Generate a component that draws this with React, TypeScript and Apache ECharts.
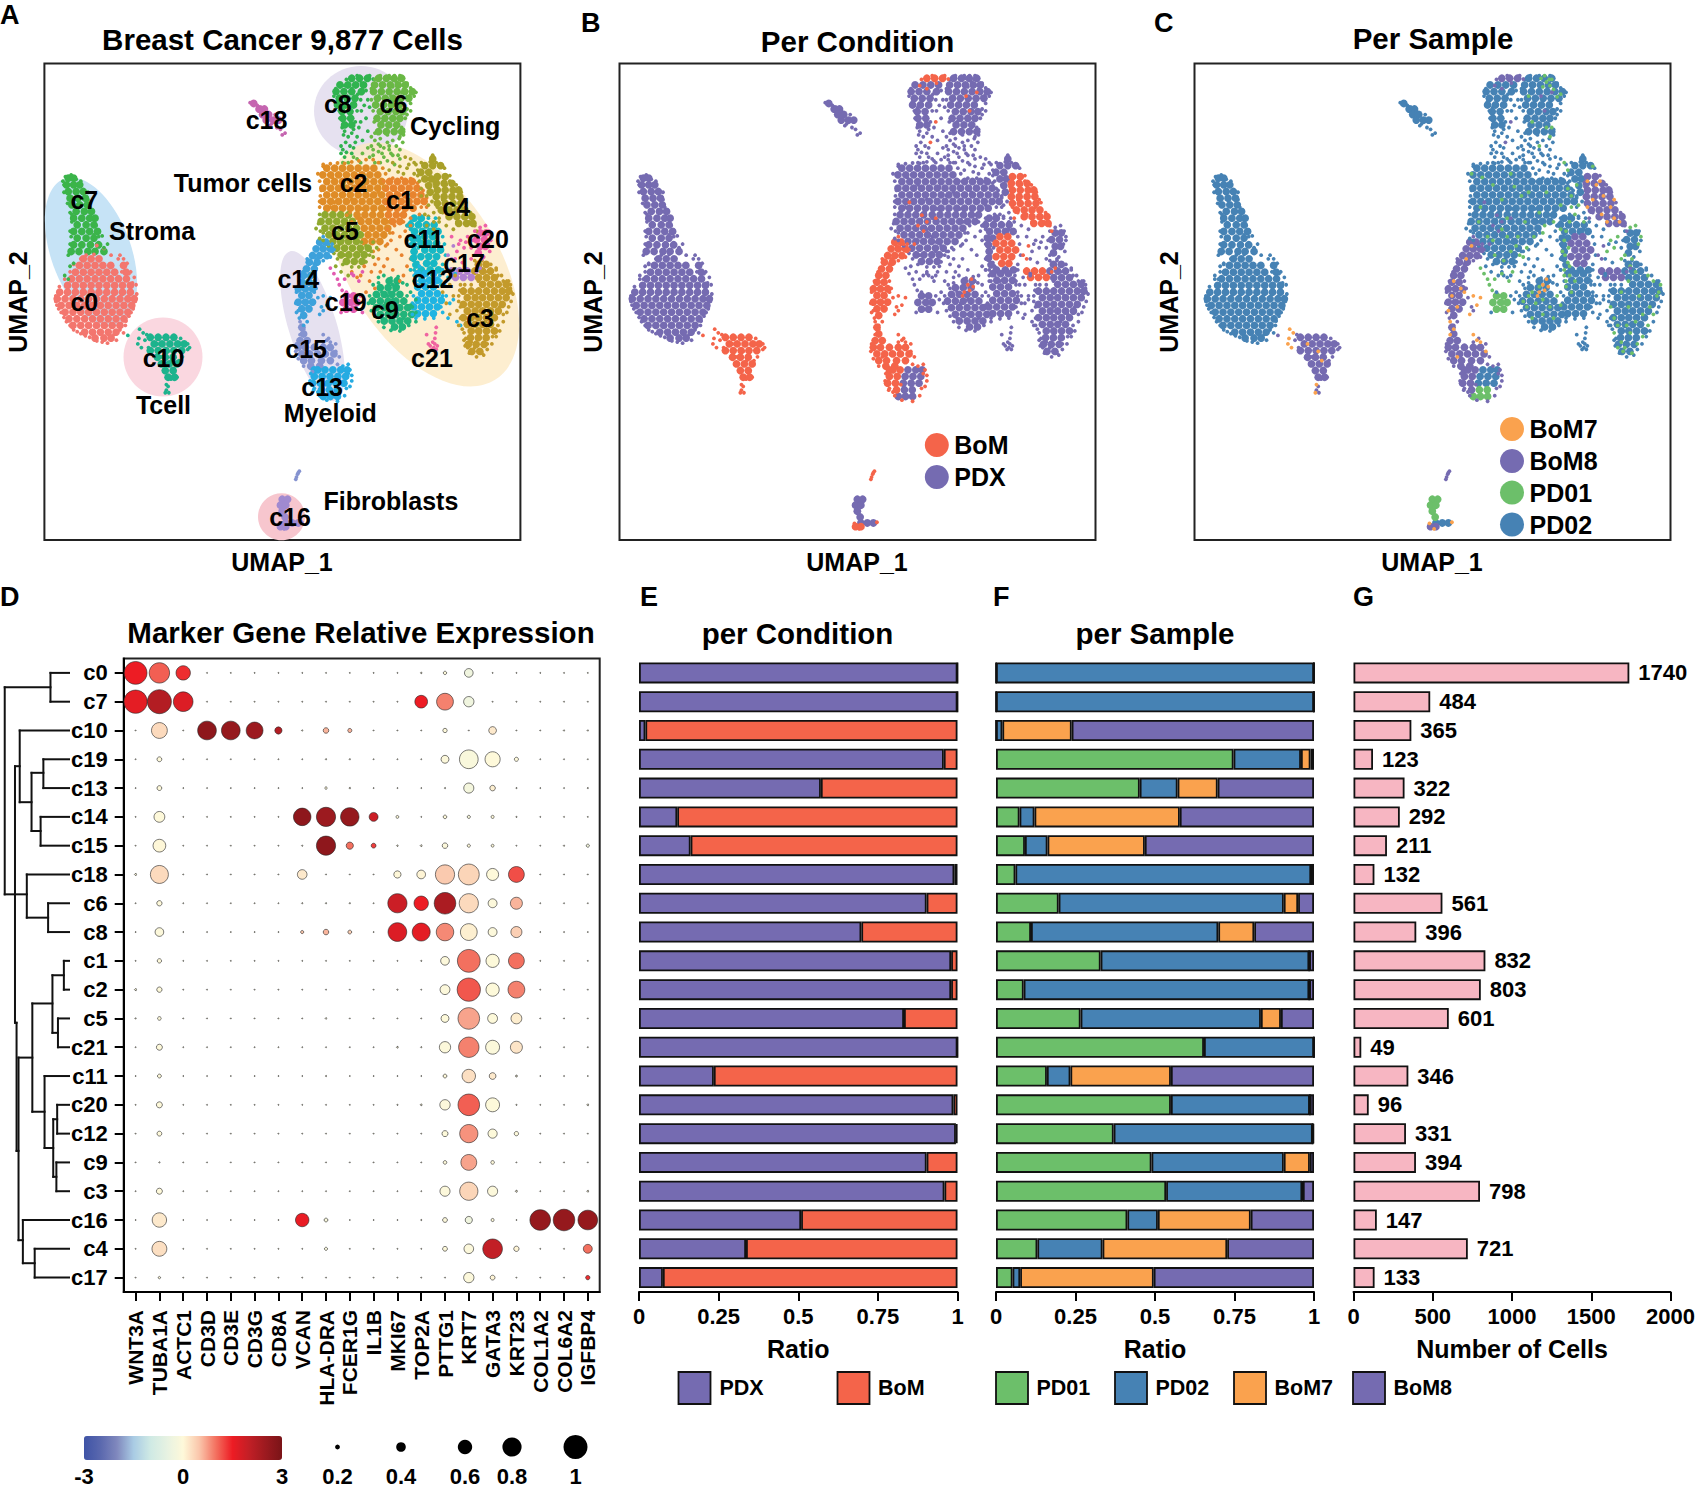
import React, { useEffect, useRef } from "react";
import * as echarts from "echarts";

const FONT = "Liberation Sans";

// ---------- Dot plot ----------
const rowsD = ["c0","c7","c10","c19","c13","c14","c15","c18","c6","c8","c1","c2","c5","c21","c11","c20","c12","c9","c3","c16","c4","c17"];
const genes = ["WNT3A","TUBA1A","ACTC1","CD3D","CD3E","CD3G","CD8A","VCAN","HLA-DRA","FCER1G","IL1B","MKI67","TOP2A","PTTG1","KRT7","GATA3","KRT23","COL1A2","COL6A2","IGFBP4"];
const dotPct = [
[.95,.85,.6,.02,.02,.02,.02,.02,.02,.02,.02,.02,.06,.14,.36,.03,.03,.02,.02,.02],
[.97,1,.82,.02,.02,.02,.02,.02,.02,.02,.02,.02,.53,.7,.43,.03,.04,.02,.02,.02],
[.03,.66,.02,.78,.78,.7,.3,.05,.23,.17,.02,.03,.03,.18,.02,.32,.02,.02,.05,.05],
[.02,.2,.02,.02,.02,.02,.02,.04,.05,.05,.04,.03,.02,.33,.78,.63,.17,.02,.02,.02],
[.02,.2,.02,.03,.03,.03,.03,.04,.1,.06,.03,.04,.02,.05,.42,.23,.05,.02,.02,.05],
[.02,.45,.02,.03,.03,.02,.02,.73,.8,.77,.37,.12,.04,.15,.13,.13,.05,.02,.02,.02],
[.02,.53,.02,.03,.04,.02,.02,.05,.8,.3,.2,.06,.07,.23,.13,.12,.02,.02,.05,.13],
[.08,.75,.04,.02,.02,.02,.02,.4,.02,.02,.02,.3,.36,.8,.87,.5,.66,.02,.02,.02],
[.04,.22,.02,.02,.02,.02,.02,.05,.05,.05,.04,.8,.6,.9,.8,.37,.5,.02,.04,.04],
[.04,.36,.02,.02,.02,.02,.02,.13,.23,.16,.04,.78,.75,.73,.7,.37,.46,.02,.04,.04],
[.03,.18,.02,.02,.02,.02,.02,.03,.03,.03,.03,.03,.05,.36,.95,.55,.66,.02,.02,.02],
[.08,.22,.02,.02,.02,.02,.02,.03,.04,.02,.02,.05,.04,.41,.97,.55,.7,.02,.02,.02],
[.05,.15,.02,.02,.02,.02,.02,.03,.06,.03,.03,.04,.02,.33,.9,.41,.45,.02,.02,.02],
[.02,.25,.02,.02,.02,.02,.02,.02,.03,.02,.02,.07,.05,.47,.85,.58,.5,.02,.03,.04],
[.02,.16,.02,.02,.02,.02,.02,.03,.05,.03,.03,.03,.03,.16,.56,.28,.08,.02,.02,.02],
[.02,.25,.02,.02,.02,.02,.02,.02,.02,.02,.02,.05,.07,.43,.9,.58,.05,.03,.03,.07],
[.02,.2,.02,.02,.02,.02,.02,.03,.03,.02,.02,.03,.02,.25,.76,.38,.18,.02,.02,.02],
[.02,.05,.02,.02,.02,.02,.02,.03,.03,.03,.02,.02,.03,.15,.66,.15,.04,.02,.02,.03],
[.02,.25,.02,.02,.02,.02,.02,.02,.02,.02,.02,.02,.04,.42,.76,.42,.08,.02,.03,.07],
[.02,.6,.02,.03,.03,.03,.02,.56,.16,.03,.03,.02,.05,.2,.3,.13,.04,.86,.9,.82],
[.03,.62,.02,.03,.03,.03,.03,.03,.13,.03,.03,.04,.03,.2,.4,.82,.22,.02,.02,.37],
[.02,.1,.02,.02,.02,.02,.03,.03,.04,.03,.03,.03,.03,.03,.43,.2,.03,.02,.02,.18],
];
const dotZ = [
[1.5,1.1,1.4,0,0,0,0,0,0,0,0,0,0,0,-.3,0,0,0,0,0],
[1.6,2.2,1.7,0,0,0,0,0,0,0,0,0,1.5,.9,-.3,0,0,0,0,0],
[0,.3,0,2.7,2.6,2.5,2.2,0,.6,.6,0,0,0,0,0,.15,0,0,0,0],
[0,0,0,0,0,0,0,0,0,0,0,0,0,-.05,-.1,0,0,0,0,0],
[0,0,0,0,0,0,0,0,0,0,0,0,0,0,-.2,.1,0,0,0,0],
[0,0,0,0,0,0,0,2.7,2.5,2.6,1.9,0,0,0,-.1,0,0,0,0,0],
[0,.02,0,0,0,0,0,0,2.7,1,1.3,0,0,-.05,0,0,0,0,0,-.2],
[0,.3,0,0,0,0,0,.15,0,0,0,.02,.05,.45,.35,0,1.2,0,0,0],
[0,0,0,0,0,0,0,0,0,0,0,1.9,1.5,2.3,.3,-.05,.6,0,0,0],
[0,-.05,0,0,0,0,0,.5,.6,.4,0,1.7,1.6,.85,.1,-.05,.4,0,0,0],
[0,0,0,0,0,0,0,0,0,0,0,0,0,-.05,1,-.03,1,0,0,0],
[0,0,0,0,0,0,0,0,0,0,0,0,0,-.05,1.15,-.03,.9,0,0,0],
[0,0,0,0,0,0,0,0,0,0,0,0,0,-.03,.7,-.03,.12,0,0,0],
[0,0,0,0,0,0,0,0,0,0,0,0,0,-.05,.9,-.07,.2,0,0,0],
[0,0,0,0,0,0,0,0,0,0,0,0,0,0,.25,.15,0,0,0,0],
[0,0,0,0,0,0,0,0,0,0,0,0,0,-.05,1.1,-.03,0,0,0,0],
[0,0,0,0,0,0,0,0,0,0,0,0,0,-.02,.8,-.02,-.03,0,0,0],
[0,0,0,0,0,0,0,0,0,0,0,0,0,0,.7,0,0,0,0,0],
[0,0,0,0,0,0,0,0,0,0,0,0,0,-.05,.35,-.05,0,0,0,0],
[0,.15,0,0,0,0,0,1.55,-.1,0,0,0,0,-.05,-.3,0,0,2.6,2.6,2.6],
[0,.25,0,0,0,0,0,0,-.1,0,0,0,0,0,-.05,2,.05,0,0,1],
[0,0,0,0,0,0,0,0,0,0,0,0,0,0,-.04,.05,0,0,0,1.4],
];
const zStops = ["#3F53A6","#5A68AE","#8088BD","#A9CBE4","#CEE9E4","#E6F2E2","#FEF9DA","#FAC5AA","#F3705F","#ED1C24","#C21F26","#9C1A1F","#7A1317"];
const sizeLegend = [[.2,337.5],[.4,401],[.6,465],[.8,512],[1,575.5]];

// Dendrogram segments: depth1, row1, depth2, row2
const dendroSegments = [
[128,0,175,0],[128,1,175,1],[128,0,128,1],[12,.5,128,.5],[12,.5,12,7.69],[12,7.69,68,7.69],[68,7,68,8.5],[68,7,175,7],[68,8.5,122,8.5],[122,8,122,9],[122,8,175,8],[122,9,175,9],
[38,3.24,38,12.15],[38,3.24,50,3.24],[50,2,50,4.49],[50,2,175,2],[50,4.49,80,4.49],[80,3.47,80,5.49],[80,3.47,110,3.47],[110,3,110,4],[110,3,175,3],[110,4,175,4],[80,5.49,103,5.49],[103,5,103,6],[103,5,175,5],[103,6,175,6],
[38,12.15,42,12.15],[42,12.15,42,16.6],[42,16.6,47,16.6],[47,13.36,47,19.7],[47,13.36,82,13.36],[82,11.48,82,15.24],[82,11.48,133,11.48],[133,10.5,133,12.5],[133,10.5,162,10.5],[162,10,162,11],[162,10,175,10],[162,11,175,11],[133,12.5,147,12.5],[147,12,147,13],[147,12,175,12],[147,13,175,13],
[82,15.24,113,15.24],[113,14,113,16.5],[113,14,175,14],[113,16.5,135,16.5],[135,15.5,135,17.5],[135,15.5,145,15.5],[145,15,145,16],[145,15,175,15],[145,16,175,16],[135,17.5,143,17.5],[143,17,143,18],[143,17,175,17],[143,18,175,18],
[47,19.7,58,19.7],[58,19,58,20.5],[58,19,175,19],[58,20.5,88,20.5],[88,20,88,21],[88,20,175,20],[88,21,175,21],
];

// ---------- Stacked bars ----------
const pdxRatio = [1,1,.02,.957,.571,.12,.162,.99,.903,.698,.98,.98,.832,1,.235,.987,.995,.903,.959,.509,.336,.075];
const bomRatio = [0,0,.98,.043,.429,.88,.838,.01,.097,.302,.02,.02,.168,0,.765,.013,.005,.097,.041,.491,.664,.925];
const pd01Ratio = [0,0,0,.747,.452,.074,.091,.061,.197,.11,.329,.087,.266,.654,.16,.55,.37,.489,.535,.413,.13,.052];
const pd02Ratio = [1,1,.02,.212,.119,.047,.071,.93,.708,.589,.656,.898,.567,.346,.074,.437,.626,.416,.428,.096,.205,.024];
const bom7Ratio = [0,0,.218,.03,.126,.457,.306,0,.045,.113,0,0,.063,0,.316,0,0,.082,.002,.292,.392,.42];
const bom8Ratio = [0,0,.762,.011,.303,.422,.532,.009,.05,.188,.015,.015,.104,0,.45,.013,.004,.013,.035,.199,.273,.504];
const cellCounts = [1740,484,365,123,322,292,211,132,561,396,832,803,601,49,346,96,331,394,798,147,721,133];

// ---------- UMAP cells (x, y in UMAP plot units). "d": rows [y, x, x...], "s": flat x,y pairs ----------
const c0Dense = [[700,232,254,276],[718,221,243,265,287,309,345],[736,210,232,254,276,298,320,352],[754,199,221,243,265,287,309,331,353],[772,188,210,232,254,276,298,320,342,364],[790,166,188,210,232,254,276,298,320,342,364],[808,159,181,203,225,247,269,291,313,335,357,375],[826,170,192,214,236,258,280,302,324,346,368],[844,181,203,225,247,269,291,313,335,357],[862,192,214,236,258,280,302,324,346],[880,203,225,247,269,291,313,335],[898,236,258,280,302,324],[914,265,290,310]];
const c0Sparse = [335,690,345,700,355,712,365,735,375,750,380,770,382,795,372,835,360,855,350,880,345,900,325,920,300,928,270,922,250,912,225,902,205,892,185,870,170,845,158,825,155,800,165,775,180,755,195,735,205,715,262,688,290,672,310,690,270,664,330,700,340,735,285,925,360,740,370,765,155,815,163,835,178,858,195,880,215,897,238,908,318,905,335,892,352,868,366,845,378,815,240,690,225,700];
const c7Dense = [[482,190,205],[500,185,205,222],[518,190,212,232],[536,195,217,238],[554,200,222,243],[572,212,235,255],[590,205,228,250,265],[608,215,240,262],[626,205,228,250,272],[644,215,240,262],[662,205,228,252,275],[680,198,220,245,265,290]];
const c7Sparse = [180,745,190,755,195,720,205,712,285,638,262,635,182,478,178,500,245,520,250,560,268,610,200,600,198,640,175,490,178,520,188,550,195,575,200,580,195,625,195,660,190,690,225,490,245,540,262,590,275,640,290,670,300,660,198,473,212,485];
const c10Dense = [[912,420,442,464,486],[930,431,453,475,497,515],[948,420,442,464,486,508],[966,440,462,484],[984,451,473,495],[1002,462,484],[1020,470,488]];
const c10Bom7 = [390,890,400,900,385,930,388,915,395,940,440,930,470,950,480,975,465,1040,462,1062];
const c10Sparse = [525,945,510,965,495,1020,470,1045,465,1055,472,1062,357,907,410,905,405,920,415,940,525,930,530,940,500,975,488,1005,478,1025,450,965,505,915];
const c8Top = [[212,985,1007,1029]];
const c8Dense = [[230,952,974,996,1018],[248,941,963,985,1012],[266,950,972,994],[284,945,967,990],[302,958,980],[320,960,982],[338,965,985]];
const c8Sparse = [965,355,975,370,968,385,980,395,960,405,970,412,995,330,1000,300,1010,270,1020,285,1025,320,1005,345,1000,370,1015,380,1030,355,1035,290,940,240,935,260,945,275,950,300,952,320,958,345,962,365,955,395,985,360,990,350,960,290,1002,255,1015,248,1025,245,1012,300,1030,270,990,400,985,415,965,425,955,415];
const c8Bom = [1045,214,965,232,985,240,1012,225,1010,330,995,385,970,215,1035,205,1000,205];
const c6Dense = [[212,1060,1082,1104,1125],[230,1049,1071,1093,1115,1135],[248,1046,1068,1090,1112,1134,1155],[266,1057,1079,1101,1123,1145],[284,1052,1074,1096,1118],[302,1065,1087,1109,1128],[320,1056,1078,1100,1120],[338,1067,1089,1111],[356,1060,1082,1104,1125]];
const c6Sparse = [1050,380,1065,375,1085,385,1100,380,1118,375,1130,365,1128,385,1075,400,1060,410,1090,405,1075,425,1065,440,1160,260,1150,280,1140,295,1135,320,1040,395,1110,395,1100,420,1000,430,975,440,1035,425,1050,440,1015,415,1165,250,1150,238,1140,225,1120,205,1090,205,1065,205,1050,215,1040,240,1040,270,1045,300,1048,330,1050,360,1060,390,1045,420,1120,405,1130,350,1130,300,1115,420,1085,435,1105,445,1120,430,1065,395,1085,365,1040,370,1030,400,1010,440,990,425,960,440,1070,415,1095,415,1045,405,1140,310,1150,300];
const c6Pd01 = [1095,212,1110,222,1120,232,1130,242,1100,235,1125,215,1140,262,1150,255,1070,330,1110,345,1125,345,1090,395,1120,370,1060,260,1105,205,1118,215];
const c6Bom = [1125,250,1095,260,1105,300];
const c2Dense = [[455,915,937,959,981,1003,1025,1047],[473,904,926,948,970,992,1014,1036,1058],[491,915,937,959,981,1003,1025,1047,1069],[509,904,926,948,970,992,1014,1036,1058],[527,915,937,959,981,1003,1025,1047,1069],[545,904,926,948,970,992,1014,1036,1058],[563,915,937,959,981,1003,1025,1047,1069],[581,1000,1022,1044,1066],[599,1011,1033,1055,1077],[617,1020,1042,1064,1086],[635,1031,1053,1075],[653,1020,1042,1064]];
const c2Pd01 = [930,480,960,500,1010,470,1040,530,985,540,925,560,1060,520,1000,590,1050,600,1075,640,1030,640,900,470,1020,505];
const c2Bom = [971,582,936,547,1010,590,985,600];
const c2Sparse = [890,470,905,450,895,490,900,515,895,545,1045,680,1060,675,1080,665,905,445,925,443,945,441,965,442,985,438,1005,435,1025,432,1045,432,1060,440,1072,455,1080,470,1075,505,1082,540,1078,565,1088,600,1092,630,895,560,897,530,980,575,1015,565];
const c5Dense = [[581,910,932,954,976],[599,899,921,943,965,987],[617,910,932,954,976,998],[635,921,943,965,987,1009],[653,932,954,976,998],[671,943,965,987,1009,1031],[689,955,977,999,1020],[707,970,992,1014]];
const c5Pd01 = [920,600,945,640,985,620,1010,680,965,690,1035,690,1000,640,990,705,1025,665,1045,695,1055,670,960,650];
const c5Bom = [976,625,960,610,950,660];
const c5Sparse = [940,720,955,735,975,745,885,618,905,630,895,645,895,580,892,605,897,625,905,650,920,665,935,685,945,700,960,715,985,722,1005,722,1025,708,1040,680,1012,655,1045,655];
const c1Dense = [[491,1091,1113,1135,1155],[509,1080,1102,1124,1146,1168],[527,1091,1113,1135,1157,1179],[545,1080,1102,1124,1146,1168,1188],[563,1091,1113,1135,1157],[581,1088,1110,1130],[599,1099,1120]];
const c1Pd01 = [1110,520,1150,555,1090,575,1170,510,1130,600,1180,560,1105,610,1100,630];
const c1Sparse = [1095,650,1110,675,1085,700,1125,690,1140,650,1150,700,1075,720,1100,730,1130,745,1060,700,1085,660,1120,640,1050,715,1065,735,985,735,1000,750,1135,625,1150,610,1075,490,1100,482,1125,482,1150,483,1170,495,1185,515,1195,535,1195,560,1175,580,1150,590,1140,610,1085,620,1020,720,1040,735,1010,745,1035,760,1050,780,1025,790,1150,730,1140,720,1120,760];
const c4Pd02 = [[430,1212],[448,1190,1212,1234],[466,1179,1201],[484,1190,1208],[502,1201],[520,1205]];
const c4Bom8 = [[478,1225,1247],[496,1222,1244,1266],[514,1225,1247,1269,1285],[532,1222,1244,1266,1288],[550,1225,1247,1269,1291],[568,1236,1258,1280,1302],[586,1258,1280,1302,1322],[604,1285,1307,1325]];
const c4Bom7 = [1225,490,1250,500,1270,530,1290,560,1300,590,1240,540,1280,600,1225,560,1260,490,1300,540,1315,600,1265,580];
const c4Pd01 = [1170,460,1195,500,1180,530,1200,555,1190,580,1215,600,1160,440,1240,450];
const c4Sparse = [1135,425,1150,430,1145,445,1165,445,1120,450,1100,440,1090,460,1130,470,1160,470,1175,490,1215,620,1230,600,1250,610,1200,585,1195,610,1270,620,1212,420,1205,438,1222,440,1245,455,1170,475,1180,510,1195,530,1210,545,1215,575,1205,520,1140,455,1115,465,1180,440,1195,465];
const c4Bom8Sparse = [1260,475,1278,500,1292,520,1305,548,1318,575,1330,610,1335,625,1218,505,1230,590,1240,575];
const c11Bom8 = [[640,1190,1212],[658,1179,1201,1223],[676,1190,1212,1234],[694,1179,1201,1223],[712,1195,1215]];
const c11Pd02 = [[590,1160,1180],[608,1150,1172,1194,1216],[626,1161,1183,1205,1227],[644,1155,1170],[662,1158],[680,1160],[698,1158],[716,1165],[730,1180,1205,1228]];
const c11Pd01 = [1165,625,1160,650,1172,670,1162,690,1170,710,1160,730,1175,745,1165,760,1150,620,1155,680,1175,600];
const c11Sparse = [1150,600,1140,610,1150,640,1240,640,1245,660,1248,690,1240,715,1220,590,1200,590,1150,660,1152,700,1150,730];
const c12Dense = [[740,1170,1192,1214],[758,1181,1203,1225],[776,1170,1192,1214],[794,1181,1203,1225],[812,1170,1192,1214,1236],[830,1159,1181,1203,1225],[848,1170,1192,1214]];
const c12Pd01 = [1165,775,1180,790,1160,745,1175,720,1190,760];
const c12Sparse = [1240,730,1255,750,1245,770,1250,800,1260,820,1240,845,1255,860,1270,810,1280,870,1290,880,1235,760,1275,740,1160,760,1158,800,1155,820,1155,850,1165,860,1190,862,1215,860,1235,830,1240,800,1235,770,1232,745];
const c9Dense = [[760,1090,1112],[778,1065,1087,1109],[796,1054,1076,1098,1120],[814,1043,1065,1087,1109,1131],[832,1054,1076,1098,1120,1142],[850,1065,1087,1109,1131,1153],[868,1076,1098,1120,1142],[884,1105,1127]];
const c9Bom7 = [1110,755,1100,770,1090,790,1115,775,1085,800,1105,785];
const c9Pd01 = [1060,800,1080,820,1100,810,1120,830,1140,800,1055,830,1100,850,1070,860,1130,860,1090,775,1070,790,1045,815,1150,825];
const c9Sparse = [1060,750,1045,770,1075,745,1140,770,1150,790,1165,810,1035,800,1032,820,1040,840,1050,855,1060,870,1075,885,1095,893,1120,895,1145,880,1165,870,1165,845,1155,830,1095,752,1115,748,1128,765,1060,765];
const c3Dense = [[715,1340,1362],[733,1330,1352,1374],[751,1341,1363,1385],[769,1352,1374,1396,1418],[787,1298,1320,1341,1363,1385,1407,1425],[805,1309,1331,1352,1374,1396,1418],[823,1298,1320,1341,1363,1385,1407],[841,1309,1331,1352,1374,1396],[859,1298,1320,1341,1363,1385],[877,1309,1331,1352,1374],[895,1320,1341,1363,1385],[913,1318,1340,1362],[931,1312,1334,1356],[950,1322,1344]];
const c3Pd01 = [1345,900,1365,930,1330,940,1350,955,1320,925,1400,830,1425,790,1430,770,1420,800,1410,850,1395,880,1380,910,1300,860,1290,830,1320,790,1340,760,1360,735,1395,745,1410,760,1300,900,1310,880,1370,800,1340,830,1380,850,1360,870,1335,880,1325,950,1310,940,1345,720];
const c3Sparse = [1240,790,1260,770,1270,800,1250,820,1280,840,1260,850,1290,770,1275,745,1285,800,1285,880,1300,920,1390,725,1425,760,1432,790,1330,705,1350,705,1375,715,1390,730,1405,745,1420,760,1430,780,1437,795,1432,815,1425,830,1420,845,1410,870,1400,895,1390,910,1378,930,1365,945,1355,960,1335,965,1315,955,1303,935,1305,915,1295,890,1290,860,1285,815,1288,785,1302,770,1320,770];
const c20Dense = [[630,1345,1362],[648,1335,1357],[666,1345,1360],[684,1340]];
const c20Pd01 = [1290,650,1310,640,1330,690,1350,700,1300,670,1280,680,1320,700,1345,615,1360,610,1375,640,1368,660];
const c20Sparse = [1370,625,1375,650,1372,680,1355,695,1325,650,1330,625,1265,640,1285,660,1305,655,1320,670,1275,700,1295,710];
const c17Dense = [[733,1265,1287,1309],[750,1276,1298,1320]];
const c17Sparse = [1270,665,1255,690,1265,700,1335,735,1345,725];
const c19Dense = [[800,970,990],[818,960,982,1000],[836,970,990]];
const c19Pd01 = [935,740,945,755,950,770,958,785,965,755,985,740,1005,760,1015,735,925,725];
const c19Pd02 = [990,745,970,790,1020,810,1015,845,955,845,1010,800];
const c21Sparse = [1222,885,1220,900,1218,915,1212,925,1205,935,1215,940,1225,935,1195,905,1200,930,1222,945,1210,945,1218,930];
const c14Dense = [[655,895,912],[673,885,905,925],[691,875,895,915],[709,866,888],[727,858,880],[745,850,870],[763,845,865],[781,835,855,875],[799,845,865],[817,835,855,875],[835,845,865],[853,850]];
const c14Bom7 = [850,760,845,800,860,830,880,790,905,800,915,825,895,850,870,780,900,665,885,700,835,840,925,805];
const c14Sparse = [890,805,900,830,885,780,905,840,860,870,850,880,905,640,920,660,930,680,915,650,930,660,935,675,925,695,905,705,880,715,860,700,848,735,838,760,830,790,828,820,830,845,838,860,880,760];
const c15Dense = [[885,845],[903,850],[921,840,860],[939,835,855,880,905,925],[957,845,867,889,911,935],[975,850,872,900,925],[990,870,895]];
const c15Bom7 = [840,870,850,890,840,905,905,905,915,920,925,925,860,965,940,950];
const c15Sparse = [830,930,828,950,835,970,850,990,875,1005,900,990,940,930,950,965,945,985,920,915,905,925];
const c13Bom8 = [[1000,910],[1018,880,902],[1036,875,897],[1054,900],[1000,880,890]];
const c13Pd02 = [[1000,932,954,972],[1018,924,946,968],[1036,919,941,963]];
const c13Pd01 = [[1054,922,944],[1072,905,925,945]];
const c13Sparse = [975,985,985,1015,980,1000,960,990,970,1050,878,1055,890,1060,912,1040,870,1010,868,1030,880,1050,895,1070,915,1082,945,1085,965,1070,980,1045,985,1030,975,1010];
const c16Pd01 = [[1350,790,805],[1366,785,800],[1382,790],[1398,798]];
const c16Pd02 = [[1414,800,818,835]];
const c16Bom8 = [[1424,785,800]];
const c16Bom7 = [782,1415,795,1430,845,1412];
const c18Dense = [[280,710],[295,725,740],[310,735,752],[325,745,765,780]];
const c18Sparse = [700,278,760,335,775,345,785,350,790,365,798,360,745,300,770,310,720,285,755,340,730,290];
const c15Far = [838,1274,833,1282,830,1290,828,1296,835,1278];

const clusterColors: Record<string, string> = {
  c0:"#F3766E",c7:"#3BB44A",c10:"#1DB38D",c8:"#30B34F",c6:"#6AB845",c2:"#DF8C27",c5:"#8FA92F",c1:"#E8832E",c4:"#A9A029",c11:"#17B8C4",c12:"#1FB4E2",c9:"#22B47A",c3:"#C39A2B",c20:"#EE5FA8",c17:"#B280D0",c19:"#E25BB0",c21:"#F064A0",c14:"#3DA1DB",c15:"#8593D0",c13:"#26ABE2",c16:"#A08AD0",c18:"#C565B0",
};
const sampleColors: Record<string, string> = { PD01:"#6CBF6A", PD02:"#4682B4", BoM7:"#FAA24E", BoM8:"#756BB1" };
const conditionColors: Record<string, string> = { PDX:"#756BB1", BoM:"#F4644A" };
const conditionOfSample: Record<string, string> = { PD01:"PDX", PD02:"PDX", BoM7:"BoM", BoM8:"BoM" };

type Group = [string, string, "d" | "s", any[]];
const cellGroups: Group[] = [
  ["c0","PD02","d",c0Dense],["c0","PD02","s",c0Sparse],["c7","PD02","d",c7Dense],["c7","PD02","s",c7Sparse],
  ["c10","BoM8","d",c10Dense],["c10","BoM7","s",c10Bom7],["c10","BoM8","s",c10Sparse],
  ["c8","BoM8","d",c8Top],["c8","PD02","d",c8Dense],["c8","PD02","s",c8Sparse],["c8","BoM8","s",c8Bom],
  ["c6","PD02","d",c6Dense],["c6","PD02","s",c6Sparse],["c6","PD01","s",c6Pd01],["c6","BoM8","s",c6Bom],
  ["c2","PD02","d",c2Dense],["c2","PD01","s",c2Pd01],["c2","BoM8","s",c2Bom],["c2","PD02","s",c2Sparse],
  ["c5","PD02","d",c5Dense],["c5","PD01","s",c5Pd01],["c5","BoM8","s",c5Bom],["c5","PD02","s",c5Sparse],
  ["c1","PD02","d",c1Dense],["c1","PD01","s",c1Pd01],["c1","PD02","s",c1Sparse],
  ["c4","PD02","d",c4Pd02],["c4","BoM8","d",c4Bom8],["c4","BoM7","s",c4Bom7],["c4","PD01","s",c4Pd01],["c4","PD02","s",c4Sparse],["c4","BoM8","s",c4Bom8Sparse],
  ["c11","BoM8","d",c11Bom8],["c11","PD02","d",c11Pd02],["c11","PD01","s",c11Pd01],["c11","PD02","s",c11Sparse],
  ["c12","PD02","d",c12Dense],["c12","PD01","s",c12Pd01],["c12","PD02","s",c12Sparse],
  ["c9","PD02","d",c9Dense],["c9","BoM7","s",c9Bom7],["c9","PD01","s",c9Pd01],["c9","PD02","s",c9Sparse],
  ["c3","PD02","d",c3Dense],["c3","PD01","s",c3Pd01],["c3","PD02","s",c3Sparse],
  ["c20","PD02","d",c20Dense],["c20","PD01","s",c20Pd01],["c20","PD02","s",c20Sparse],["c17","BoM8","d",c17Dense],["c17","BoM8","s",c17Sparse],
  ["c19","PD01","d",c19Dense],["c19","PD01","s",c19Pd01],["c19","PD02","s",c19Pd02],["c21","PD02","s",c21Sparse],
  ["c14","BoM8","d",c14Dense],["c14","BoM7","s",c14Bom7],["c14","BoM8","s",c14Sparse],
  ["c15","BoM8","d",c15Dense],["c15","BoM7","s",c15Bom7],["c15","BoM8","s",c15Sparse],["c13","BoM8","d",c13Bom8],["c13","PD02","d",c13Pd02],["c13","PD01","d",c13Pd01],["c13","BoM8","s",c13Sparse],
  ["c16","PD01","d",c16Pd01],["c16","PD02","d",c16Pd02],["c16","BoM8","d",c16Bom8],["c16","BoM7","s",c16Bom7],
  ["c18","PD02","d",c18Dense],["c18","PD02","s",c18Sparse],["c15","BoM8","s",c15Far],
];
const clusterLabels: [string, number, number][] = [
  ["c18",746,325],["c8",946,282],["c6",1102,282],["Cycling",1275,340],["Tumor cells",680,495],["c2",990,495],["c1",1120,540],["c4",1278,560],["c7",235,540],["Stroma",425,625],["c5",966,625],["c11",1187,647],["c20",1367,647],["c17",1300,710],["c12",1212,755],["c14",835,755],["c19",968,818],["c9",1078,838],["c0",235,818],["c3",1345,860],["c15",857,945],["c10",457,968],["c21",1210,968],["c13",902,1046],["Tcell",457,1095],["Myeloid",925,1116],["Fibroblasts",1095,1355],["c16",812,1397],
];

function cellsOf(g: Group): number[][] {
  if (g[2] === "d") return g[3].flatMap((r: number[]) => r.slice(1).map((x) => [x, r[0]]));
  const out: number[][] = [];
  for (let i = 0; i + 1 < g[3].length; i += 2) out.push([g[3][i], g[3][i + 1]]);
  return out;
}

function buildOption() {
  const FRAME = { borderColor: "#222", borderWidth: 2, show: true, backgroundColor: "transparent" };
  const grids: any[] = [
    { left: 44.4, top: 63.5, width: 476, height: 476.5, ...FRAME },
    { left: 619.5, top: 63.5, width: 476, height: 476.5, ...FRAME },
    { left: 1194.5, top: 63.5, width: 476, height: 476.5, ...FRAME },
    { left: 0, top: 658.5, width: 69, height: 633.5 },
    { left: 123.7, top: 658.5, width: 476, height: 633.5, ...FRAME },
    { left: 639, top: 658.5, width: 318.5, height: 633.5 },
    { left: 996, top: 658.5, width: 318, height: 633.5 },
    { left: 1353.5, top: 658.5, width: 318.5, height: 633.5 },
  ];
  const umapX = (i: number) => ({ gridIndex: i, type: "value", min: 123, max: 1458, show: false });
  const umapY = (i: number) => ({ gridIndex: i, type: "value", min: 172, max: 1460, inverse: true, show: false });
  const axisFont = { fontFamily: FONT, fontWeight: "bold", color: "#000" };
  const line = { lineStyle: { color: "#000", width: 2 } };
  const barX = (i: number, name: string, max: number, interval: number) => ({
    gridIndex: i, type: "value", min: 0, max, interval, splitLine: { show: false },
    axisLine: { show: true, ...line }, axisTick: { show: true, length: 9, ...line },
    axisLabel: { ...axisFont, fontSize: 22, margin: 13, formatter: (v: number) => String(v) },
    name, nameLocation: "middle", nameGap: 44, nameTextStyle: { ...axisFont, fontSize: 25 },
  });
  const barY = (i: number) => ({ gridIndex: i, type: "category", data: rowsD, inverse: true, show: false });
  const xAxis: any[] = [
    umapX(0), umapX(1), umapX(2),
    { gridIndex: 3, type: "value", min: 0, max: 175, show: false },
    { gridIndex: 4, type: "category", data: genes, axisLine: { show: true, ...line }, axisTick: { show: true, alignWithLabel: true, length: 9, ...line }, axisLabel: { ...axisFont, fontSize: 21, rotate: 90, margin: 18, interval: 0 }, splitLine: { show: false } },
    barX(5, "Ratio", 1, .25), barX(6, "Ratio", 1, .25), barX(7, "Number of Cells", 2000, 500),
  ];
  const yAxis: any[] = [
    umapY(0), umapY(1), umapY(2),
    { gridIndex: 3, type: "value", min: -.5, max: 21.5, inverse: true, show: false },
    { gridIndex: 4, type: "category", data: rowsD, inverse: true, axisLine: { show: true, ...line }, axisTick: { show: true, alignWithLabel: true, length: 9, ...line }, axisLabel: { ...axisFont, fontSize: 22, margin: 16, interval: 0 }, splitLine: { show: false } },
    barY(5), barY(6), barY(7),
  ];

  const series: any[] = [];
  // 0: dots
  const dots: number[][] = [];
  rowsD.forEach((_, r) => genes.forEach((_, c) => dots.push([c, r, dotPct[r][c], dotZ[r][c]])));
  series.push({
    type: "scatter", xAxisIndex: 4, yAxisIndex: 4, data: dots, clip: false,
    encode: { x: 0, y: 1 }, symbolSize: (v: number[]) => Math.max(1, 24 * v[2]),
    itemStyle: { borderColor: "#222", borderWidth: .6, opacity: 1 }, silent: true,
  });
  // dendrogram
  series.push({
    type: "custom", xAxisIndex: 3, yAxisIndex: 3, data: dendroSegments, clip: false, silent: true,
    encode: { x: [0, 2], y: [1, 3] },
    renderItem: (_: any, api: any) => {
      const a = api.coord([api.value(0), api.value(1)]);
      const b = api.coord([api.value(2), api.value(3)]);
      return { type: "line", shape: { x1: a[0], y1: a[1], x2: b[0], y2: b[1] }, style: { stroke: "#111", lineWidth: 2, lineCap: "square" } };
    },
  });
  const stacked = (idx: number, name: string, data: number[], color: string) => ({
    type: "bar", name, xAxisIndex: idx, yAxisIndex: idx, stack: "s" + idx, data, barWidth: 21,
    itemStyle: { color, borderColor: "#111", borderWidth: 1.8 }, silent: true,
  });
  series.push(stacked(5, "PDX", pdxRatio, conditionColors.PDX), stacked(5, "BoM", bomRatio, conditionColors.BoM));
  series.push(stacked(6, "PD01", pd01Ratio, sampleColors.PD01), stacked(6, "PD02", pd02Ratio, sampleColors.PD02), stacked(6, "BoM7", bom7Ratio, sampleColors.BoM7), stacked(6, "BoM8", bom8Ratio, sampleColors.BoM8));
  series.push({
    type: "bar", xAxisIndex: 7, yAxisIndex: 7, data: cellCounts, barWidth: 21, silent: true,
    itemStyle: { color: "#F7B6C2", borderColor: "#111", borderWidth: 1.8 },
    label: { show: true, position: "right", distance: 9, ...axisFont, fontSize: 22 },
  });
  // UMAP panels
  const panel = (idx: number, keyOf: (g: Group) => string, order: string[], colors: Record<string, string>) => {
    (["d", "s"] as const).forEach((den) => {
      order.forEach((k) => {
        const data = cellGroups.filter((g) => g[2] === den && keyOf(g) === k).flatMap(cellsOf);
        if (!data.length) return;
        series.push({
          type: "scatter", xAxisIndex: idx, yAxisIndex: idx, data, silent: true,
          symbolSize: den === "d" ? 7.8 : 3.8, itemStyle: { color: colors[k], opacity: 1 },
        });
      });
    });
  };
  panel(0, (g) => g[0], Object.keys(clusterColors), clusterColors);
  panel(1, (g) => conditionOfSample[g[1]], ["PDX", "BoM"], conditionColors);
  panel(2, (g) => g[1], ["PD02", "PD01", "BoM8", "BoM7"], sampleColors);
  series.push({
    type: "scatter", xAxisIndex: 0, yAxisIndex: 0, silent: true, symbolSize: 1, z: 5,
    itemStyle: { color: "transparent" },
    data: clusterLabels.map(([name, x, y]) => ({ name, value: [x, y] })),
    label: { show: true, position: "inside", formatter: "{b}", ...axisFont, fontSize: 25, textBorderWidth: 0, opacity: 1 },
  });

  // Annotation graphics
  const txt = (x: number, y: number, text: string, fontSize: number, align = "center", rotation = 0) => ({
    type: "text", x, y, rotation, z: 10,
    style: { text, fontFamily: FONT, fontWeight: "bold", fontSize, fill: "#000", align, verticalAlign: "middle" },
  });
  const ell = (x: number, y: number, rx: number, ry: number, deg: number, fill: string) => ({
    type: "ellipse", x, y, rotation: (deg * Math.PI) / 180, z: 0, silent: true, shape: { cx: 0, cy: 0, rx, ry }, style: { fill },
  });
  const rectKey = (x: number, fill: string, label: string, tx: number) => [
    { type: "rect", z: 10, shape: { x, y: 1372, width: 32, height: 32 }, style: { fill, stroke: "#111", lineWidth: 1.8 } },
    txt(tx, 1388, label, 21.5, "left"),
  ];
  const circKey = (x: number, y: number, fill: string, label: string) => [
    { type: "circle", z: 10, shape: { cx: x, cy: y, r: 12 }, style: { fill } },
    txt(x + 17.5, y, label, 25, "left"),
  ];
  const graphic: any[] = [
    ell(91, 252, 40, 78, 20, "#C6E3F6"),
    ell(163, 357, 39.5, 39.5, 0, "#FAD7E0"),
    ell(312.5, 326, 24, 78, 17, "#E6E1F0"),
    ell(361, 111, 47, 45, 0, "#E6E1F0"),
    ell(423, 264.5, 136, 75, -58, "rgba(252,232,190,0.72)"),
    ell(281.5, 516.7, 23.5, 23.5, 0, "#F7C6CE"),
    txt(0, 15, "A", 27, "left"), txt(581, 23, "B", 27, "left"), txt(1154, 23, "C", 27, "left"),
    txt(0, 597, "D", 27, "left"), txt(640, 597, "E", 27, "left"), txt(993, 597, "F", 27, "left"), txt(1353, 597, "G", 27, "left"),
    txt(282.5, 39, "Breast Cancer 9,877 Cells", 29.5), txt(857.5, 41, "Per Condition", 29.5), txt(1433, 38, "Per Sample", 29.5),
    txt(361, 632, "Marker Gene Relative Expression", 29.5), txt(797.5, 633, "per Condition", 29.5), txt(1155, 633, "per Sample", 29.5),
    txt(282, 562, "UMAP_1", 25), txt(857, 562, "UMAP_1", 25), txt(1432, 562, "UMAP_1", 25),
    txt(18, 302, "UMAP_2", 25, "center", Math.PI / 2), txt(593, 302, "UMAP_2", 25, "center", Math.PI / 2), txt(1168.5, 302, "UMAP_2", 25, "center", Math.PI / 2),
    ...circKey(936.8, 445, conditionColors.BoM, "BoM"), ...circKey(936.8, 477, conditionColors.PDX, "PDX"),
    ...circKey(1512, 429, sampleColors.BoM7, "BoM7"), ...circKey(1512, 461, sampleColors.BoM8, "BoM8"), ...circKey(1512, 492.6, sampleColors.PD01, "PD01"), ...circKey(1512, 524.5, sampleColors.PD02, "PD02"),
    ...rectKey(678.5, conditionColors.PDX, "PDX", 719.5), ...rectKey(837.5, conditionColors.BoM, "BoM", 878),
    ...rectKey(996, sampleColors.PD01, "PD01", 1036.5), ...rectKey(1115, sampleColors.PD02, "PD02", 1155.5), ...rectKey(1234, sampleColors.BoM7, "BoM7", 1274.5), ...rectKey(1353, sampleColors.BoM8, "BoM8", 1393.5),
    txt(84, 1476, "-3", 22), txt(183, 1476, "0", 22), txt(282, 1476, "3", 22),
    ...sizeLegend.flatMap(([v, x]) => [
      { type: "circle", z: 10, shape: { cx: x, cy: 1447, r: Math.max(1, 12 * v) }, style: { fill: "#000" } },
      txt(x, 1476, String(v), 22),
    ]),
  ];

  return {
    animation: false,
    backgroundColor: "#fff",
    grid: grids, xAxis, yAxis, series, graphic,
    visualMap: {
      type: "continuous", min: -3, max: 3, seriesIndex: 0, dimension: 3, orient: "horizontal",
      left: 84, top: 1436, itemWidth: 24, itemHeight: 198, padding: 0, calculable: false, hoverLink: false, realtime: false,
      inRange: { color: zStops }, textStyle: { fontSize: 0 },
    },
  };
}

export default function App() {
  const ref = useRef<HTMLDivElement>(null);
  useEffect(() => {
    document.body.style.margin = "0";
    const chart = echarts.init(ref.current!, undefined, { renderer: "svg" });
    chart.setOption(buildOption() as any);
    return () => chart.dispose();
  }, []);
  return <div ref={ref} style={{ width: 1698, height: 1487, background: "#fff" }} />;
}
